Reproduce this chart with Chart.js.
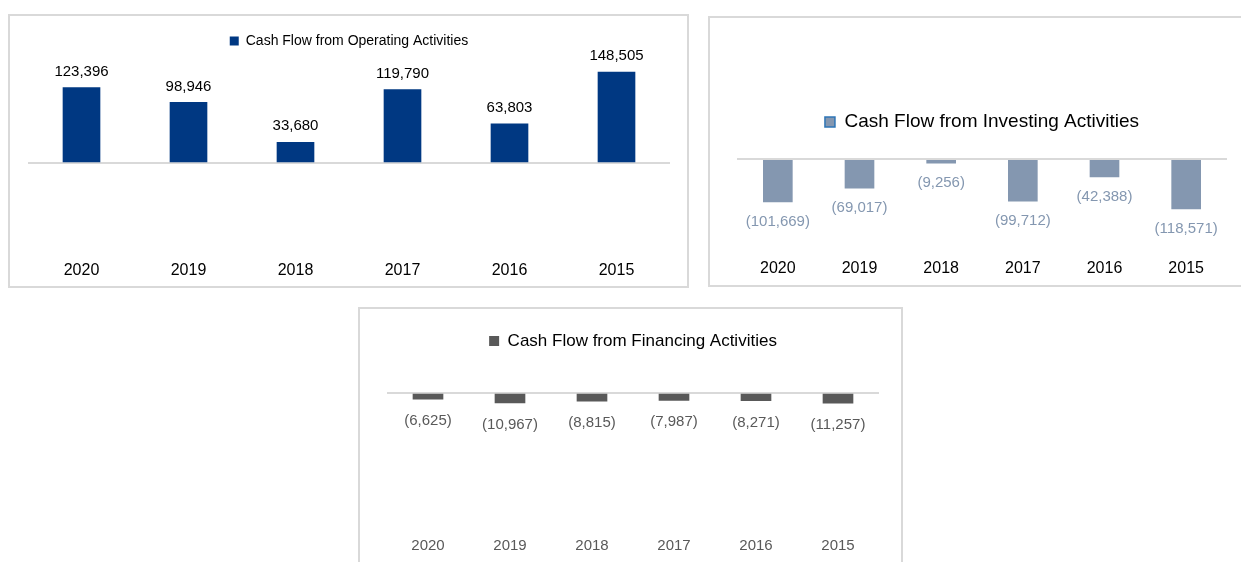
<!DOCTYPE html>
<html>
<head>
<meta charset="utf-8">
<title>Cash Flow</title>
<script src="https://cdn.jsdelivr.net/npm/chart.js@4.4.1/dist/chart.umd.min.js"></script>
<style>
    html, body {
        margin: 0;
        padding: 0;
        width: 1241px;
        height: 562px;
        overflow: hidden;
        background: #fff;
    }
    .panel {
        position: absolute;
        border: 2px solid #d9d9d9;
        background: #fff;
    }
    .panel canvas {
        display: block;
    }
    #panel-op  { left: 8px;   top: 14px;  }
    #panel-inv { left: 708px; top: 16px;  }
    #panel-fin { left: 358px; top: 307px; }
</style>
</head>
<body>
<div class="panel" id="panel-op"><canvas id="opChart" width="677" height="270"></canvas></div>
<div class="panel" id="panel-inv"><canvas id="invChart" width="533" height="267"></canvas></div>
<div class="panel" id="panel-fin"><canvas id="finChart" width="541" height="256"></canvas></div>

<script>
// Anos (mais recente primeiro)
const years = ['2020', '2019', '2018', '2017', '2016', '2015'];

// Valores em milhares
const operatingValues = [123396, 98946, 33680, 119790, 63803, 148505];
const investingValues = [-101669, -69017, -9256, -99712, -42388, -118571];
const financingValues = [-6625, -10967, -8815, -7987, -8271, -11257];

// Limites do eixo Y de cada gráfico
const operatingRange = [-147500, 171600];
const investingRange = [-218700, 42340];
const financingRange = [-152000, 37700];

const FONT = "'Liberation Sans', Arial, sans-serif";

function formatValue(v) {
    const s = Math.abs(v).toLocaleString('en-US');
    return v < 0 ? '(' + s + ')' : s;
}

// Rótulos de valor acima/abaixo de cada barra
const barLabels = {
    id: 'barLabels',
    afterDatasetsDraw(chart, args, opts) {
        const ctx = chart.ctx;
        const ds = chart.data.datasets[0];
        const meta = chart.getDatasetMeta(0);
        ctx.save();
        ctx.font = opts.size + 'px ' + FONT;
        ctx.fillStyle = opts.color;
        ctx.textAlign = 'center';
        ctx.textBaseline = 'middle';
        meta.data.forEach((bar, i) => {
            const v = ds.data[i];
            const y = v >= 0 ? bar.y - opts.offset : bar.y + opts.offset;
            ctx.fillText(formatValue(v), bar.x, y);
        });
        ctx.restore();
    }
};

function buildChart(id, cfg) {
    return new Chart(document.getElementById(id), {
        type: 'bar',
        data: {
            labels: years,
            datasets: [{
                label: cfg.label,
                data: cfg.values,
                backgroundColor: cfg.color,
                borderWidth: 0,
                barThickness: cfg.barWidth
            }]
        },
        options: {
            responsive: false,
            animation: false,
            layout: { padding: cfg.padding },
            plugins: {
                tooltip: { enabled: false },
                legend: {
                    display: true,
                    position: 'top',
                    labels: {
                        color: cfg.legendColor,
                        boxWidth: cfg.box,
                        boxHeight: cfg.box,
                        padding: 10,
                        font: { family: FONT, size: cfg.legendSize },
                        generateLabels: () => [{
                            text: cfg.label,
                            fillStyle: cfg.color,
                            strokeStyle: cfg.boxBorder || cfg.color,
                            lineWidth: cfg.boxBorder ? 1.5 : 0,
                            datasetIndex: 0
                        }]
                    }
                },
                barLabels: {
                    color: cfg.labelColor,
                    size: 15,
                    offset: cfg.labelOffset
                }
            },
            scales: {
                x: {
                    grid: { display: false, drawTicks: false },
                    border: { display: false },
                    ticks: {
                        color: cfg.tickColor,
                        padding: 8,
                        font: { family: FONT, size: cfg.tickSize }
                    }
                },
                y: {
                    min: cfg.range[0],
                    max: cfg.range[1],
                    border: { display: false },
                    ticks: { display: false },
                    // apenas a linha do zero
                    afterBuildTicks: axis => { axis.ticks = [{ value: 0 }]; },
                    grid: {
                        drawTicks: false,
                        color: '#d9d9d9',
                        lineWidth: 2
                    }
                }
            }
        },
        plugins: [barLabels]
    });
}

document.addEventListener('DOMContentLoaded', () => {
    // Atividades Operacionais
    buildChart('opChart', {
        label: 'Cash Flow from Operating Activities',
        values: operatingValues,
        range: operatingRange,
        color: '#003882',
        barWidth: 37,
        padding: { left: 18, right: 17, top: 8, bottom: -2.2 },
        legendColor: '#000000',
        legendSize: 14,
        box: 9,
        labelColor: '#000000',
        labelOffset: 16,
        tickColor: '#000000',
        tickSize: 16
    });

    // Atividades de Investimento
    buildChart('invChart', {
        label: 'Cash Flow from Investing Activities',
        values: investingValues,
        range: investingRange,
        color: '#8497b0',
        boxBorder: '#2e75b6',
        barWidth: 29,
        padding: { left: 27, right: 16, top: 84.5, bottom: -1.2 },
        legendColor: '#8497b0',
        legendSize: 19,
        box: 10,
        labelColor: '#8497b0',
        labelOffset: 20,
        tickColor: '#000000',
        tickSize: 16
    });

    // Atividades de Financiamento
    buildChart('finChart', {
        label: 'Cash Flow from Financing Activities',
        values: financingValues,
        range: financingRange,
        color: '#595959',
        barWidth: 30,
        padding: { left: 27, right: 22, top: 13.5, bottom: 2 },
        legendColor: '#595959',
        legendSize: 17,
        box: 10,
        labelColor: '#595959',
        labelOffset: 22,
        tickColor: '#595959',
        tickSize: 15
    });
});
</script>
</body>
</html>
